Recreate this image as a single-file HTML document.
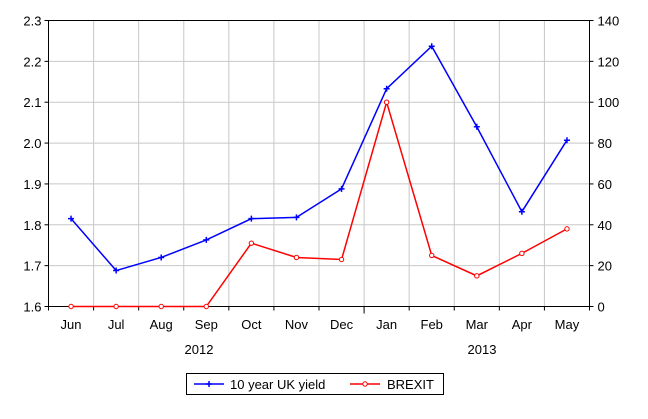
<!DOCTYPE html>
<html><head><meta charset="utf-8"><style>
body{margin:0;background:#fff;width:648px;height:414px;overflow:hidden;font-family:"Liberation Sans",sans-serif}
svg text{font-family:"Liberation Sans",sans-serif;font-size:13px;fill:#000}
</style></head><body>
<svg id="chart" width="648" height="414" xmlns="http://www.w3.org/2000/svg"></svg>
<script>
const categories=["Jun","Jul","Aug","Sep","Oct","Nov","Dec","Jan","Feb","Mar","Apr","May"];
const yieldValues=[1.815,1.688,1.72,1.763,1.815,1.818,1.888,2.133,2.237,2.04,1.832,2.007];
const brexitValues=[0,0,0,0,31,24,23,100,25,15,26,38];
const leftTicks=["1.6","1.7","1.8","1.9","2.0","2.1","2.2","2.3"];
const rightTicks=["0","20","40","60","80","100","120","140"];
const years=["2012","2013"];
const L=48.5,R=589.5,T=20.5,B=306.5;
const svg=document.getElementById('chart');
const NS="http://www.w3.org/2000/svg";
function mk(tag,attrs,parent){const e=document.createElementNS(NS,tag);for(const k in attrs)e.setAttribute(k,attrs[k]);(parent||svg).appendChild(e);return e;}
const step=(R-L)/categories.length;
function x(i){return L+step*(i+0.5);}
function yL(v){return B-(v-1.6)/0.7*(B-T);}
function yR(v){return B-v/140*(B-T);}
for(let i=1;i<categories.length;i++){const g=mk('line',{x1:L+step*i,x2:L+step*i,y1:T,y2:B,stroke:'#c8c8c8'});}
leftTicks.forEach((t,i)=>{const y=yL(parseFloat(t));
if(i>0&&i<leftTicks.length-1){const g=mk('line',{x1:L,x2:R,y1:y,y2:y,stroke:'#c8c8c8'});}
mk('line',{x1:L-4,x2:L,y1:y,y2:y,stroke:'#000'});
const tx=mk('text',{x:L-7,y:y+5,'text-anchor':'end'});tx.textContent=t;
});
rightTicks.forEach((t)=>{const y=yR(parseFloat(t));
mk('line',{x1:R,x2:R+4,y1:y,y2:y,stroke:'#000'});
const tx=mk('text',{x:R+8,y:y+5});tx.textContent=t;
});
const frame=mk('rect',{x:L,y:T,width:R-L,height:B-T,fill:'none',stroke:'#000'});

for(let i=0;i<=categories.length;i++){const xx=L+step*i;mk('line',{x1:xx,x2:xx,y1:B,y2:B+(i===7?7:4),stroke:'#000'});}
categories.forEach((c,i)=>{const t=mk('text',{x:x(i),y:329,'text-anchor':'middle'});t.textContent=c;
});
const yx=[199,482];
years.forEach((yv,i)=>{const t=mk('text',{x:yx[i],y:354,'text-anchor':'middle'});t.textContent=yv;
});
const pb=mk('polyline',{points:yieldValues.map((v,i)=>x(i)+','+yL(v)).join(' '),fill:'none',stroke:'#0000ff','stroke-width':1.5});

yieldValues.forEach((v,i)=>{const p=mk('path',{d:`M${x(i)-3},${yL(v)}h6M${x(i)},${yL(v)-3}v6`,stroke:'#0000ff','stroke-width':1.5});
});
const pr=mk('polyline',{points:brexitValues.map((v,i)=>x(i)+','+yR(v)).join(' '),fill:'none',stroke:'#ff0000','stroke-width':1.5});

brexitValues.forEach((v,i)=>{const c=mk('circle',{cx:x(i),cy:yR(v),r:2.2,fill:'#fff',stroke:'#ff0000','stroke-width':1});
});
const lg=mk('g',{});
mk('rect',{x:186.5,y:373.5,width:257,height:21,fill:'#fff',stroke:'#000'},lg);
mk('line',{x1:194,x2:224,y1:384,y2:384,stroke:'#0000ff','stroke-width':1.5},lg);
mk('path',{d:'M206,384h6M209,381v6',stroke:'#0000ff','stroke-width':1.5},lg);
const t1=mk('text',{x:230,y:389},lg);t1.textContent='10 year UK yield';

mk('line',{x1:350,x2:380,y1:384,y2:384,stroke:'#ff0000','stroke-width':1.5},lg);
mk('circle',{cx:365,cy:384,r:2.2,fill:'#fff',stroke:'#ff0000'},lg);
const t2=mk('text',{x:387,y:389},lg);t2.textContent='BREXIT';

</script>
</body></html>
